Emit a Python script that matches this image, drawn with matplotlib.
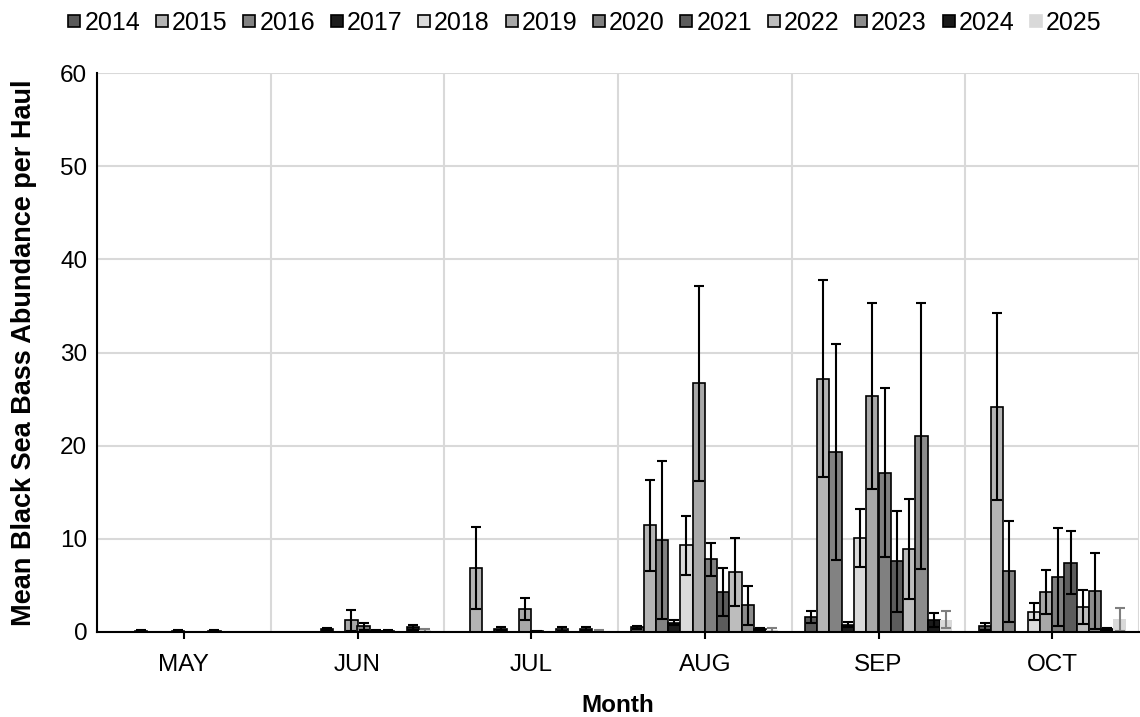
import matplotlib
matplotlib.use("Agg")
import matplotlib.pyplot as plt
from matplotlib.lines import Line2D
import numpy as np

plt.rcParams['font.family'] = ['Liberation Sans', 'DejaVu Sans']

months = ["MAY", "JUN", "JUL", "AUG", "SEP", "OCT"]
years = ["2014", "2015", "2016", "2017", "2018", "2019",
         "2020", "2021", "2022", "2023", "2024", "2025"]

# Mean abundance per haul by year (rows) and month (columns)
mean_2014 = [0.0, 0.0, 0.0, 0.5, 1.6, 0.6]
mean_2015 = [0.0, 0.0, 6.9, 11.45, 27.2, 24.2]
mean_2016 = [0.1, 0.0, 0.0, 9.9, 19.3, 6.5]
mean_2017 = [0.0, 0.3, 0.3, 1.0, 0.8, 0.0]
mean_2018 = [0.0, 0.0, 0.0, 9.3, 10.1, 2.2]
mean_2019 = [0.1, 1.25, 2.45, 26.7, 25.3, 4.3]
mean_2020 = [0.0, 0.6, 0.1, 7.8, 17.1, 5.9]
mean_2021 = [0.0, 0.15, 0.0, 4.3, 7.6, 7.45]
mean_2022 = [0.1, 0.15, 0.3, 6.45, 8.9, 2.7]
mean_2023 = [0.0, 0.0, 0.0, 2.85, 21.05, 4.4]
mean_2024 = [0.0, 0.5, 0.3, 0.35, 1.33, 0.35]
mean_2025 = [0.0, 0.2, 0.15, 0.2, 1.33, 1.35]

# Error bar half-widths (standard error)
err_2014 = [0.0, 0.0, 0.0, 0.15, 0.65, 0.35]
err_2015 = [0.0, 0.0, 4.4, 4.9, 10.6, 10.0]
err_2016 = [0.12, 0.0, 0.0, 8.5, 11.6, 5.4]
err_2017 = [0.0, 0.15, 0.2, 0.3, 0.3, 0.0]
err_2018 = [0.0, 0.0, 0.0, 3.15, 3.15, 0.9]
err_2019 = [0.12, 1.1, 1.2, 10.45, 10.0, 2.4]
err_2020 = [0.0, 0.4, 0.05, 1.75, 9.1, 5.25]
err_2021 = [0.0, 0.1, 0.0, 2.6, 5.4, 3.4]
err_2022 = [0.12, 0.1, 0.2, 3.65, 5.4, 1.85]
err_2023 = [0.0, 0.0, 0.0, 2.1, 14.3, 4.1]
err_2024 = [0.0, 0.3, 0.2, 0.1, 0.75, 0.1]
err_2025 = [0.0, 0.15, 0.1, 0.2, 0.9, 1.2]

means = [mean_2014, mean_2015, mean_2016, mean_2017, mean_2018, mean_2019,
         mean_2020, mean_2021, mean_2022, mean_2023, mean_2024, mean_2025]
errs = [err_2014, err_2015, err_2016, err_2017, err_2018, err_2019,
        err_2020, err_2021, err_2022, err_2023, err_2024, err_2025]

fills = ["#595959", "#b4b4b4", "#828282", "#1c1c1c", "#dadada", "#a8a8a8",
         "#808080", "#5c5c5c", "#bdbdbd", "#8c8c8c", "#1a1a1a", "#d9d9d9"]
edges = ["black"] * 11 + ["none"]
err_colors = ["black"] * 11 + ["#7f7f7f"]

fig = plt.figure(figsize=(11.4, 7.17), dpi=100)
ax = fig.add_axes([97 / 1140, (717 - 632) / 717, 1042 / 1140, 559 / 717])

n = len(years)
bw = 0.0706
x = np.arange(len(months))
for i, (yr, m, e) in enumerate(zip(years, means, errs)):
    pos = x + (i - (n - 1) / 2) * bw
    ax.bar(pos, m, width=bw, color=fills[i], edgecolor=edges[i],
           linewidth=1.2, zorder=3)
    e = np.asarray(e)
    mask = e > 0
    ax.errorbar(pos[mask], np.asarray(m)[mask], yerr=e[mask], fmt="none",
                ecolor=err_colors[i], elinewidth=1.5, capsize=3.8,
                capthick=1.5, zorder=4)

ax.set_xlim(-0.5, len(months) - 0.5)
ax.set_ylim(0, 60)
ax.set_yticks(np.arange(0, 61, 10))
ax.set_xticks(x)
ax.set_xticklabels(months)
ax.set_xticks(np.arange(-0.5, len(months), 1), minor=True)

ax.grid(False)
ax.yaxis.grid(True, color="#d9d9d9", linewidth=1.5, zorder=0)
ax.xaxis.grid(True, which="minor", color="#d9d9d9", linewidth=1.5, zorder=0)
ax.set_axisbelow(True)

for side in ["top", "right"]:
    ax.spines[side].set_visible(False)
for side in ["left", "bottom"]:
    ax.spines[side].set_color("black")
    ax.spines[side].set_linewidth(1.5)
    ax.spines[side].set_zorder(5)

ax.tick_params(axis="x", which="major", length=5, width=1.5, color="black",
               labelsize=17.5, pad=11)
ax.tick_params(axis="x", which="minor", length=0)
ax.tick_params(axis="y", length=0, labelsize=17.5, pad=7)

ax.set_xlabel("Month", fontsize=17.5, fontweight="bold", labelpad=13)
ax.set_ylabel("Mean Black Sea Bass Abundance per Haul", fontsize=19.5,
              fontweight="bold", labelpad=17)

# Square legend keys
handles = [Line2D([], [], linestyle="none", marker="s", markersize=9,
                  markerfacecolor=fills[i],
                  markeredgecolor=("black" if edges[i] != "none" else fills[i]),
                  markeredgewidth=1.2)
           for i in range(n)]
fig.legend(handles, years, loc="upper center", ncol=n,
           bbox_to_anchor=(585 / 1140, 1.006), frameon=False, fontsize=18,
           handlelength=0.5, handletextpad=0.15, columnspacing=0.62,
           borderaxespad=0.2)

fig.savefig("out.png", dpi=100)
